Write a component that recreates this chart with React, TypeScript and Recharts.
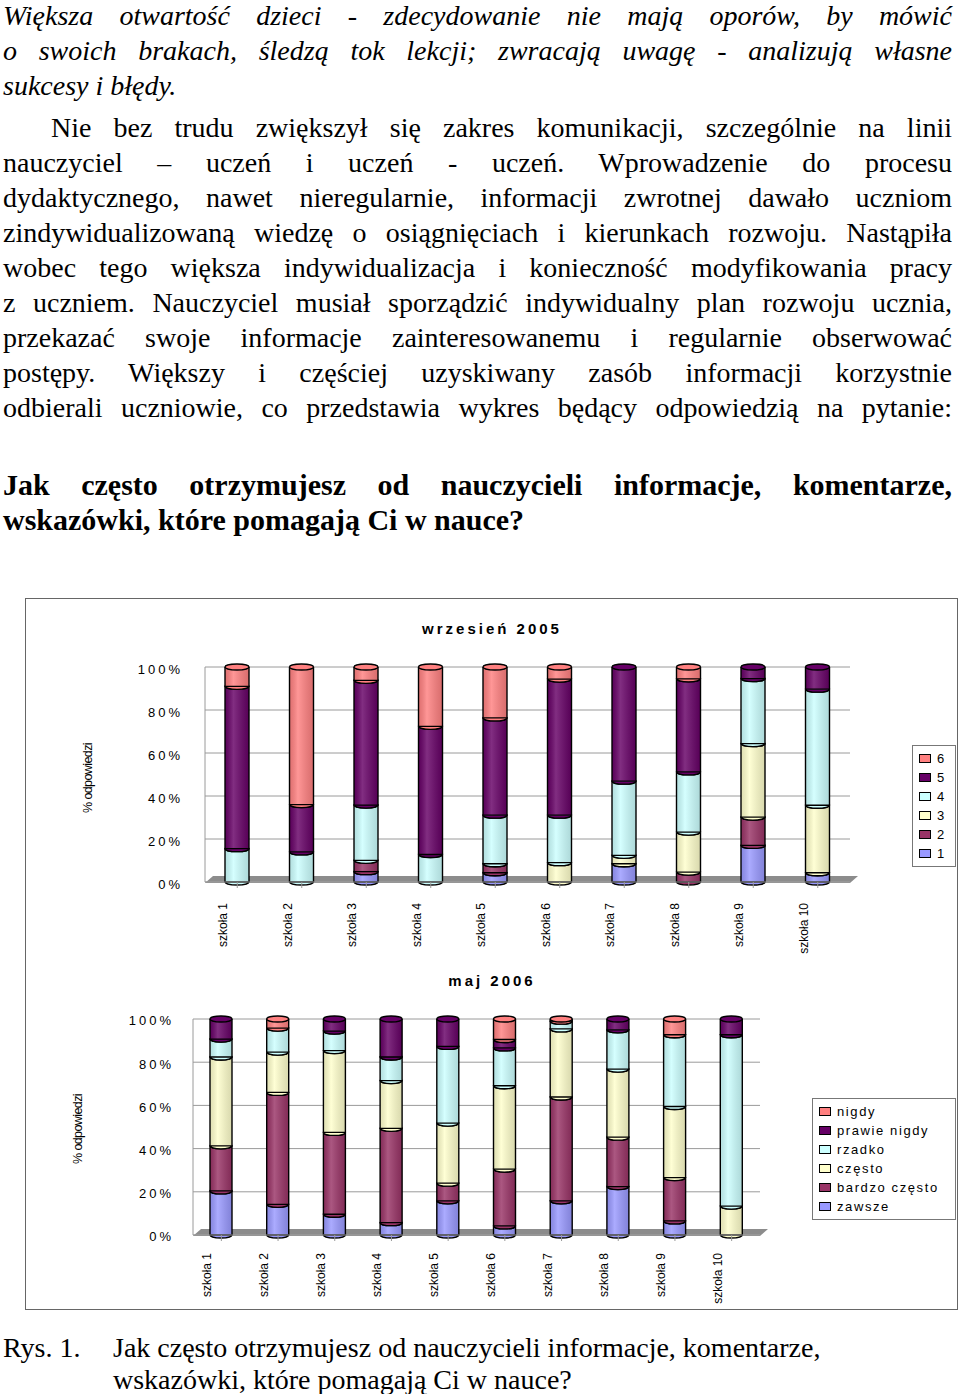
import React from 'react';
import { BarChart, Bar, XAxis, YAxis, CartesianGrid } from 'recharts';

// szkoły (kategorie osi X)
const SCHOOLS = ['szkoła 1', 'szkoła 2', 'szkoła 3', 'szkoła 4', 'szkoła 5', 'szkoła 6', 'szkoła 7', 'szkoła 8', 'szkoła 9', 'szkoła 10'];

// wrzesień 2005 – odpowiedzi 1..6 (w %)
const SEP_1 = [0, 0, 4.8, 0, 4.3, 0, 8.5, 0, 17, 4.3];
const SEP_2 = [0, 0, 5.3, 0, 4.2, 0, 0, 4.6, 13.2, 0];
const SEP_3 = [0, 0, 0, 0, 0, 9, 3.9, 18.6, 34.2, 31.4];
const SEP_4 = [15.5, 14, 25.7, 12.8, 22.6, 22.1, 34.5, 28, 30.2, 54];
const SEP_5 = [75.5, 22, 58, 59.6, 45.2, 63.3, 53.1, 43.3, 5.4, 10.3];
const SEP_6 = [9, 64, 6.2, 27.6, 23.7, 5.6, 0, 5.5, 0, 0];

// maj 2006
const MAY_1 = [20.4, 14.2, 9.6, 5.7, 15.8, 4.2, 15.8, 22.4, 6.5, 0];
const MAY_2 = [20.9, 51.8, 37.9, 43.7, 8.2, 26.3, 48.1, 22.9, 20.1, 0];
const MAY_3 = [41.1, 18.7, 37.9, 22.1, 27.8, 38.6, 31.5, 31.5, 32.9, 13.4];
const MAY_4 = [8.3, 11.1, 9, 10.9, 35.5, 17.5, 3.6, 18.2, 33.2, 79.3];
const MAY_5 = [9.3, 0, 5.6, 17.6, 12.7, 3.9, 0, 5, 0, 7.3];
const MAY_6 = [0, 4.2, 0, 0, 0, 9.5, 1, 0, 7.3, 0];

const SEP_NAMES = ['1', '2', '3', '4', '5', '6'];
const MAY_NAMES = ['zawsze', 'bardzo często', 'często', 'rzadko', 'prawie nigdy', 'nigdy'];
const COLORS = ['#9999FF', '#993366', '#FFFFCC', '#CCFFFF', '#660066', '#FF8080'];
const Y_TICKS = [0, 0.2, 0.4, 0.6, 0.8, 1];

const sepData = SCHOOLS.map((name, i) => ({
  name, s1: SEP_1[i], s2: SEP_2[i], s3: SEP_3[i], s4: SEP_4[i], s5: SEP_5[i], s6: SEP_6[i],
}));
const mayData = SCHOOLS.map((name, i) => ({
  name, s1: MAY_1[i], s2: MAY_2[i], s3: MAY_3[i], s4: MAY_4[i], s5: MAY_5[i], s6: MAY_6[i],
}));
const KEYS = ['s1', 's2', 's3', 's4', 's5', 's6'];

const SANS = '"Liberation Sans", Arial, sans-serif';
const NARROW = '"Liberation Sans Narrow", "Arial Narrow", "Liberation Sans", sans-serif';
const SERIF = '"Liberation Serif", "Times New Roman", serif';

// segment walca
const Cylinder = (props: any) => {
  const { x, y, width, height, fill } = props;
  if (!height || height < 0.5) return <g />;
  const rx = width / 2;
  const ry = 3;
  const bottom = y + height;
  return (
    <g>
      <rect x={x} y={y} width={width} height={height} fill={fill} />
      <rect x={x} y={y} width={width} height={height} fill="url(#shade)" />
      <path
        d={`M${x},${bottom} A${rx},${ry} 0 0 0 ${x + width},${bottom} Z`}
        fill={fill}
        stroke="#000"
        strokeWidth={1.3}
      />
      <line x1={x} y1={y} x2={x} y2={bottom} stroke="#000" strokeWidth={1.4} />
      <line x1={x + width} y1={y} x2={x + width} y2={bottom} stroke="#000" strokeWidth={1.4} />
      <ellipse cx={x + rx} cy={y} rx={rx} ry={ry} fill={fill} stroke="#000" strokeWidth={1.3} />
    </g>
  );
};

const SchoolTick = (props: any) => {
  const { x, y, payload, dy } = props;
  return (
    <text
      x={0}
      y={0}
      transform={`translate(${x - 10},${y + dy}) rotate(-90)`}
      textAnchor="end"
      fontFamily={NARROW}
      fontSize={12}
      fill="#000"
    >
      {payload.value}
    </text>
  );
};

const PctTick = (props: any) => {
  const { x, y, payload, dy } = props;
  return (
    <text x={x} y={y + dy} textAnchor="end" dominantBaseline="middle" fontFamily={SANS} fontSize={13} letterSpacing={3} fill="#000">
      {`${Math.round(payload.value * 100)}%`}
    </text>
  );
};

const LegendBox = ({ names, left, top, width }: { names: string[]; left: number; top: number; width: number }) => (
  <div
    style={{
      position: 'absolute', left, top, width, border: '1px solid #777', background: '#fff',
      padding: '3px 0 3px 6px', fontFamily: SANS, fontSize: 13, letterSpacing: 1.6, boxSizing: 'border-box',
    }}
  >
    {names.map((n, i) => names.length - 1 - i).map((idx) => (
      <div key={idx} style={{ height: 19, display: 'flex', alignItems: 'center' }}>
        <span style={{ display: 'inline-block', width: 10, height: 7, background: COLORS[idx], border: '1px solid #000', marginRight: 6 }} />
        {names[idx]}
      </div>
    ))}
  </div>
);

type ChartProps = {
  data: any[]; top: number; left: number; right: number; plotTop: number; xHeight: number;
  barSize: number; labelGap: number; tickDy: number; xDy: number;
};

const StackChart = ({ data, top, left, right, plotTop, xHeight, barSize, labelGap, tickDy, xDy }: ChartProps) => (
  <div style={{ position: 'absolute', left: 0, top }}>
    <BarChart
      width={960}
      height={380}
      data={data}
      stackOffset="expand"
      margin={{ top: plotTop, right, left, bottom: 30 }}
      barSize={barSize}
    >
      <defs>
        <linearGradient id="shade" x1="0" y1="0" x2="1" y2="0">
          <stop offset="0%" stopColor="#000" stopOpacity={0.12} />
          <stop offset="35%" stopColor="#fff" stopOpacity={0.18} />
          <stop offset="100%" stopColor="#000" stopOpacity={0.15} />
        </linearGradient>
      </defs>
      <CartesianGrid vertical={false} stroke="#9a9a9a" />
      <XAxis
        dataKey="name"
        height={xHeight}
        interval={0}
        axisLine={{ stroke: '#9a9a9a' }}
        tickLine={{ stroke: '#9a9a9a' }}
        tick={<SchoolTick dy={xDy} />}
      />
      <YAxis
        width={85}
        domain={[0, 1]}
        ticks={Y_TICKS}
        axisLine={{ stroke: '#9a9a9a' }}
        tickLine={false}
        tickSize={0}
        tickMargin={labelGap}
        tick={<PctTick dy={tickDy} />}
      />
      {KEYS.map((k, i) => (
        <Bar key={k} dataKey={k} stackId="a" fill={COLORS[i]} shape={Cylinder} isAnimationActive={false} />
      ))}
    </BarChart>
  </div>
);

// szara "podłoga" wykresu 3D
const Floor = ({ left, right, y }: { left: number; right: number; y: number }) => (
  <div
    style={{
      position: 'absolute', left, top: y - 6, width: right - left, height: 7, background: '#8c8c8c',
      clipPath: 'polygon(0 100%, 8px 0, 100% 0, calc(100% - 8px) 100%)',
    }}
  />
);

const line = (text: string, justify = true): React.ReactNode => (
  <div style={{ whiteSpace: 'nowrap', textAlign: justify ? 'justify' : 'left', textAlignLast: justify ? 'justify' : 'left' }}>{text}</div>
);

const YTitle = ({ x, y }: { x: number; y: number }) => (
  <div
    style={{
      position: 'absolute', left: x, top: y, transform: 'translate(-50%, -50%) rotate(-90deg)',
      fontFamily: NARROW, fontSize: 12.5, letterSpacing: -0.6, whiteSpace: 'nowrap',
    }}
  >
    % odpowiedzi
  </div>
);

const titleStyle: React.CSSProperties = {
  position: 'absolute', left: 0, width: 984, textAlign: 'center', fontFamily: SANS, fontWeight: 'bold', fontSize: 15, letterSpacing: 3,
};

export default function App() {
  const bodyText: React.CSSProperties = {
    position: 'absolute', left: 3, width: 949, fontFamily: SERIF, fontSize: 28, lineHeight: '35px', color: '#000',
  };
  return (
    <div style={{ position: 'absolute', left: 0, top: 0, width: 960, height: 1394, background: '#fff', overflow: 'hidden' }}>
      <div style={{ ...bodyText, top: -2, fontStyle: 'italic' }}>
        {line('Większa otwartość dzieci - zdecydowanie nie mają oporów, by mówić')}
        {line('o swoich brakach, śledzą tok lekcji; zwracają uwagę - analizują własne')}
        {line('sukcesy i błędy.', false)}
      </div>
      <div style={{ ...bodyText, top: 110 }}>
        <div style={{ paddingLeft: 48, whiteSpace: 'nowrap', textAlign: 'justify', textAlignLast: 'justify' }}>
          Nie bez trudu zwiększył się zakres komunikacji, szczególnie na linii
        </div>
        {line('nauczyciel – uczeń i uczeń - uczeń. Wprowadzenie do procesu')}
        {line('dydaktycznego, nawet nieregularnie, informacji zwrotnej dawało uczniom')}
        {line('zindywidualizowaną wiedzę o osiągnięciach i kierunkach rozwoju. Nastąpiła')}
        {line('wobec tego większa indywidualizacja i konieczność modyfikowania pracy')}
        {line('z uczniem. Nauczyciel musiał sporządzić indywidualny plan rozwoju ucznia,')}
        {line('przekazać swoje informacje zainteresowanemu i regularnie obserwować')}
        {line('postępy. Większy i częściej uzyskiwany zasób informacji korzystnie')}
        {line('odbierali uczniowie, co przedstawia wykres będący odpowiedzią na pytanie:')}
      </div>
      <div style={{ ...bodyText, top: 467, fontWeight: 'bold', fontSize: 30 }}>
        {line('Jak często otrzymujesz od nauczycieli informacje, komentarze,')}
        {line('wskazówki, które pomagają Ci w nauce?', false)}
      </div>

      <div style={{ position: 'absolute', left: 25, top: 598, width: 933, height: 712, border: '1px solid #666', boxSizing: 'border-box' }} />

      <div style={{ ...titleStyle, top: 620 }}>wrzesień 2005</div>
      <Floor left={205} right={858} y={882} />
      <StackChart data={sepData} top={600} left={120} right={110} plotTop={67} xHeight={68} barSize={24} labelGap={22} tickDy={4} xDy={13} />
      <YTitle x={88} y={778} />
      <LegendBox names={SEP_NAMES} left={912} top={745} width={44} />

      <div style={{ ...titleStyle, top: 972 }}>maj 2006</div>
      <Floor left={193} right={768} y={1235} />
      <StackChart data={mayData} top={950} left={108} right={200} plotTop={69} xHeight={65} barSize={22} labelGap={19} tickDy={3} xDy={10} />
      <YTitle x={78} y={1129} />
      <LegendBox names={MAY_NAMES} left={812} top={1098} width={144} />

      <div style={{ position: 'absolute', left: 3, top: 1332, fontFamily: SERIF, fontSize: 28, lineHeight: '32px' }}>Rys. 1.</div>
      <div style={{ position: 'absolute', left: 113, top: 1332, fontFamily: SERIF, fontSize: 28, lineHeight: '32px', whiteSpace: 'nowrap' }}>
        <div>Jak często otrzymujesz od nauczycieli informacje, komentarze,</div>
        <div>wskazówki, które pomagają Ci w nauce?</div>
      </div>
    </div>
  );
}
